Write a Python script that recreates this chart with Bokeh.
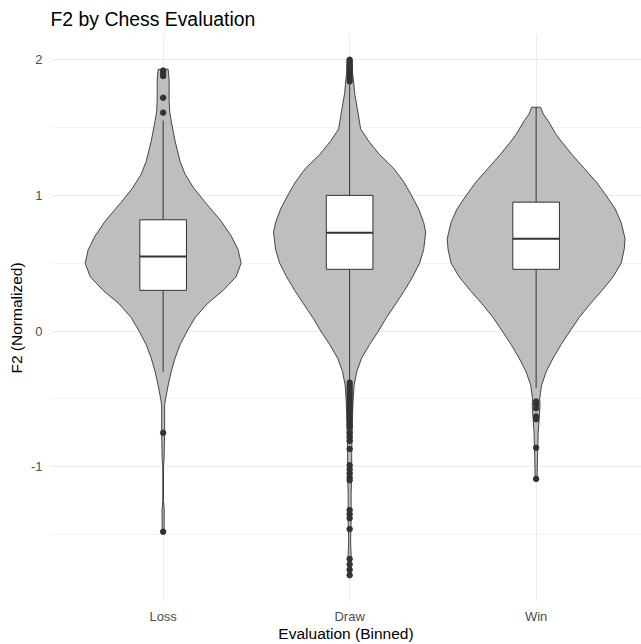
from bokeh.plotting import figure
from bokeh.models import Range1d, FixedTicker
from bokeh.embed import file_html
from bokeh.resources import INLINE

# ---------------- data ----------------
categories = ["Loss", "Draw", "Win"]

# violin density profiles: value (F2) and half-width (category units)
loss_vy = [1.93, 1.85, 1.70, 1.62, 1.55, 1.40, 1.25, 1.155, 1.05, 0.95, 0.81, 0.70, 0.60, 0.50,
           0.40, 0.30, 0.20, 0.10, 0.00, -0.10, -0.20, -0.30, -0.40, -0.50, -0.55, -0.75, -0.95,
           -1.00, -1.25, -1.32, -1.49]
loss_vw = [0.027, 0.032, 0.032, 0.035, 0.043, 0.064, 0.091, 0.118, 0.166, 0.225, 0.311, 0.365,
           0.402, 0.418, 0.391, 0.322, 0.236, 0.172, 0.129, 0.091, 0.064, 0.043, 0.027, 0.013,
           0.008, 0.008, 0.005, 0.002, 0.002, 0.006, 0.005]

draw_vy = [2.00, 1.90, 1.84, 1.75, 1.64, 1.49, 1.40, 1.30, 1.20, 1.10, 1.00, 0.90, 0.80, 0.73,
           0.60, 0.50, 0.40, 0.30, 0.20, 0.10, 0.00, -0.10, -0.20, -0.30, -0.40, -0.50, -0.60,
           -0.75, -0.90, -1.05, -1.20, -1.40, -1.55, -1.65, -1.80]
draw_vw = [0.013, 0.016, 0.021, 0.027, 0.041, 0.059, 0.102, 0.161, 0.236, 0.290, 0.332, 0.370,
           0.397, 0.408, 0.397, 0.375, 0.338, 0.295, 0.247, 0.198, 0.155, 0.107, 0.064, 0.038,
           0.024, 0.019, 0.016, 0.013, 0.011, 0.011, 0.008, 0.008, 0.005, 0.008, 0.008]

win_vy = [1.65, 1.60, 1.55, 1.45, 1.40, 1.30, 1.20, 1.10, 1.00, 0.90, 0.80, 0.68, 0.60, 0.50,
          0.40, 0.30, 0.20, 0.10, 0.00, -0.10, -0.20, -0.30, -0.40, -0.50, -0.55, -0.65, -0.75,
          -0.90, -1.09]
win_vw = [0.024, 0.038, 0.064, 0.107, 0.134, 0.193, 0.257, 0.322, 0.375, 0.424, 0.456, 0.477,
          0.472, 0.456, 0.413, 0.354, 0.290, 0.231, 0.182, 0.134, 0.091, 0.054, 0.029, 0.019,
          0.021, 0.016, 0.011, 0.008, 0.005]

# boxplot statistics
q1 = [0.30, 0.455, 0.455]
median = [0.55, 0.725, 0.68]
q3 = [0.82, 1.00, 0.95]
whisker_low = [-0.30, -0.37, -0.42]
whisker_high = [1.55, 1.82, 1.65]

# outliers
loss_out = [1.92, 1.90, 1.88, 1.72, 1.61, -0.75, -1.48]
draw_out = [2.00, 1.98, 1.96, 1.94, 1.92, 1.90, 1.88, 1.86, 1.84,
            -0.38, -0.40, -0.42, -0.44, -0.46, -0.48, -0.50, -0.52, -0.54, -0.56, -0.58, -0.60,
            -0.63, -0.66, -0.69, -0.71, -0.75, -0.78, -0.81, -0.87, -0.99, -1.02, -1.05, -1.08,
            -1.10, -1.32, -1.35, -1.38, -1.46, -1.68, -1.72, -1.76, -1.80]
win_out = [-0.52, -0.54, -0.57, -0.63, -0.65, -0.86, -1.09]

y_ticks = [-1, 0, 1, 2]
y_minor = [-1.5, -0.5, 0.5, 1.5]

# ---------------- figure ----------------
FONT = "Liberation Sans"
pos = [i + 1 for i in range(len(categories))]

p = figure(width=641, height=644, output_backend="svg", toolbar_location=None,
           x_range=Range1d(0.396, 3.565), y_range=Range1d(-1.994, 2.186),
           min_border_left=50, min_border_right=0, min_border_top=33, min_border_bottom=43,
           title="F2 by Chess Evaluation")
p.outline_line_color = None
p.background_fill_color = "white"
p.border_fill_color = "white"

p.title.text_font = FONT
p.title.text_font_size = "19.4px"
p.title.text_font_style = "normal"
p.title.text_color = "black"
p.title.align = "left"
p.title.standoff = 10

# axes
for ax in (p.xaxis, p.yaxis):
    ax.axis_line_color = None
    ax.major_tick_out = 0
    ax.major_tick_in = 0
    ax.minor_tick_out = 0
    ax.minor_tick_in = 0
    ax.major_label_text_font = FONT
    ax.major_label_text_font_size = "13px"
    ax.major_label_text_color = "#4D4D4D"
    ax.axis_label_text_font = FONT
    ax.axis_label_text_font_size = "15.5px"
    ax.axis_label_text_font_style = "normal"
    ax.axis_label_text_color = "black"

p.xaxis.ticker = FixedTicker(ticks=pos)
p.xaxis.major_label_overrides = {pv: c for pv, c in zip(pos, categories)}
p.xaxis.axis_label = "Evaluation (Binned)"
p.xaxis.major_label_standoff = 7
p.xaxis.axis_label_standoff = -2

p.yaxis.ticker = FixedTicker(ticks=y_ticks, minor_ticks=y_minor)
p.yaxis.major_label_overrides = {t: ("-%d" % abs(t) if t < 0 else "%d" % t) for t in y_ticks}
p.yaxis.axis_label = "F2 (Normalized)"
p.yaxis.major_label_standoff = 8
p.yaxis.axis_label_standoff = 3

# grid
p.xgrid.ticker = FixedTicker(ticks=pos)
p.xgrid.grid_line_color = "#EBEBEB"
p.xgrid.grid_line_width = 1
p.ygrid.grid_line_color = "#EBEBEB"
p.ygrid.grid_line_width = 1
p.ygrid.minor_grid_line_color = "#EBEBEB"
p.ygrid.minor_grid_line_width = 0.6

# violins
profiles = [(loss_vy, loss_vw), (draw_vy, draw_vw), (win_vy, win_vw)]
xs, ys = [], []
for c, (vy, vw) in zip(pos, profiles):
    right = [c + w for w in vw]
    left = [c - w for w in vw][::-1]
    xs.append(right + left)
    ys.append(list(vy) + list(vy)[::-1])
p.patches(xs=xs, ys=ys, fill_color="#BEBEBE", line_color="#333333", line_width=0.9)

# whiskers
p.segment(x0=pos, y0=q3, x1=pos, y1=whisker_high, line_color="#333333", line_width=1)
p.segment(x0=pos, y0=q1, x1=pos, y1=whisker_low, line_color="#333333", line_width=1)

# boxes
half_box = 0.125
p.quad(left=[c - half_box for c in pos], right=[c + half_box for c in pos],
       bottom=q1, top=q3, fill_color="white", line_color="#333333", line_width=1)
p.segment(x0=[c - half_box for c in pos], x1=[c + half_box for c in pos],
          y0=median, y1=median, line_color="#333333", line_width=2)

# outliers
ox, oy = [], []
for c, vals in zip(pos, [loss_out, draw_out, win_out]):
    ox += [c] * len(vals)
    oy += vals
p.scatter(x=ox, y=oy, size=5.5, fill_color="#333333", line_color="#333333")

open("out.html", "w").write(file_html(p, INLINE))
